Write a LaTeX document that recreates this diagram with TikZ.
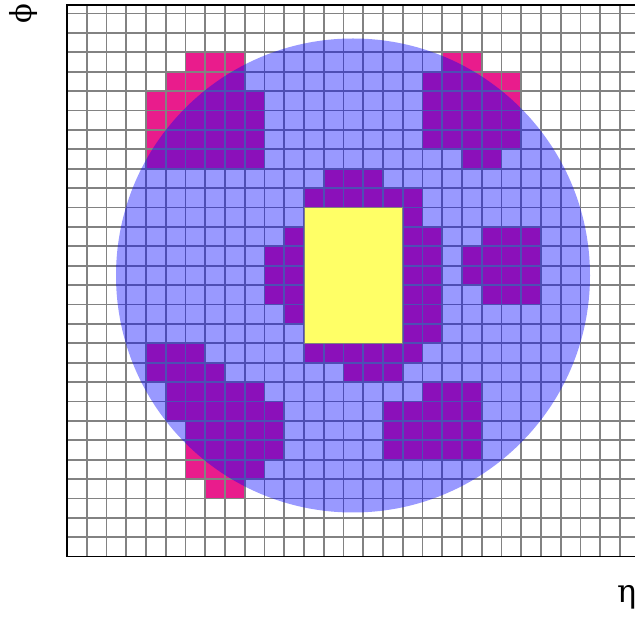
\documentclass[tikz,border=0pt]{standalone}
\usepackage{graphicx}
\usepackage{fontspec}
\newfontfamily\grkfont{DejaVu Serif}
\definecolor{magcell}{RGB}{233,28,140}
\definecolor{gridgray}{RGB}{130,130,130}
\definecolor{yelbox}{RGB}{255,255,102}
\tikzset{
  cellfill/.style={fill=magcell},
  gridline/.style={draw=gridgray,line width=1.8pt},
  framel/.style={draw=black,line width=1.2pt},
  disc/.style={fill=blue,fill opacity=0.4},
  yelrect/.style={fill=yelbox,draw=gray,line width=0.8pt},
  axlabel/.style={inner sep=0pt,font=\grkfont\fontsize{32}{36}\selectfont},
  philab/.style={inner sep=0pt,font=\grkfont\fontsize{29}{32}\selectfont}
}
\begin{document}
\begin{tikzpicture}[x=1pt,y=-1pt]
\useasboundingbox (0,0) rectangle (635,617);
\begin{scope}
\clip (0,0) rectangle (635,617);
% magenta cells
\foreach \r/\cs in {
 2/{6,7,8,19,20},
 3/{5,6,7,8,18,19,20,21,22},
 4/{4,5,6,7,8,9,18,19,20,21,22},
 5/{4,5,6,7,8,9,18,19,20,21,22},
 6/{4,5,6,7,8,9,18,19,20,21,22},
 7/{4,5,6,7,8,9,20,21},
 8/{13,14,15},
 9/{12,13,14,15,16,17},
 10/{17},
 11/{11,17,18,21,22,23},
 12/{10,11,17,18,20,21,22,23},
 13/{10,11,17,18,20,21,22,23},
 14/{10,11,17,18,21,22,23},
 15/{11,17,18},
 16/{17,18},
 17/{4,5,6,12,13,14,15,16,17},
 18/{4,5,6,7,14,15,16},
 19/{5,6,7,8,9,18,19,20},
 20/{5,6,7,8,9,10,16,17,18,19,20},
 21/{6,7,8,9,10,16,17,18,19,20},
 22/{6,7,8,9,10,16,17,18,19,20},
 23/{6,7,8,9},
 24/{7,8}}{
  \foreach \c in \cs {
    \fill[cellfill] ({67+19.75*\c},{13.5+19.4*\r}) rectangle ({67+19.75*(\c+1)},{13.5+19.4*(\r+1)});
  }
}
% grid
\foreach \i in {1,...,29} {
  \draw[gridline] ({67+19.75*\i},5) -- ({67+19.75*\i},556.7);
}
\foreach \j in {1,...,28} {
  \draw[gridline] (67,{556.7-19.4*\j}) -- (640,{556.7-19.4*\j});
}
% frame
\draw[framel] (640,5) -- (67,5) -- (67,556.7) -- (640,556.7);
% disc
\fill[disc] (353,275.5) circle[radius=237];
% yellow box
\draw[yelrect] ({67+19.75*12},{13.5+19.4*10}) rectangle ({67+19.75*17},{13.5+19.4*17});
\end{scope}
% labels
\node[philab] (philabel) at (23.8,13.5) {\rotatebox{90}{ϕ}};
\node[axlabel,anchor=base west] (etalabel) at (617,602) {η};
\end{tikzpicture}
\end{document}
